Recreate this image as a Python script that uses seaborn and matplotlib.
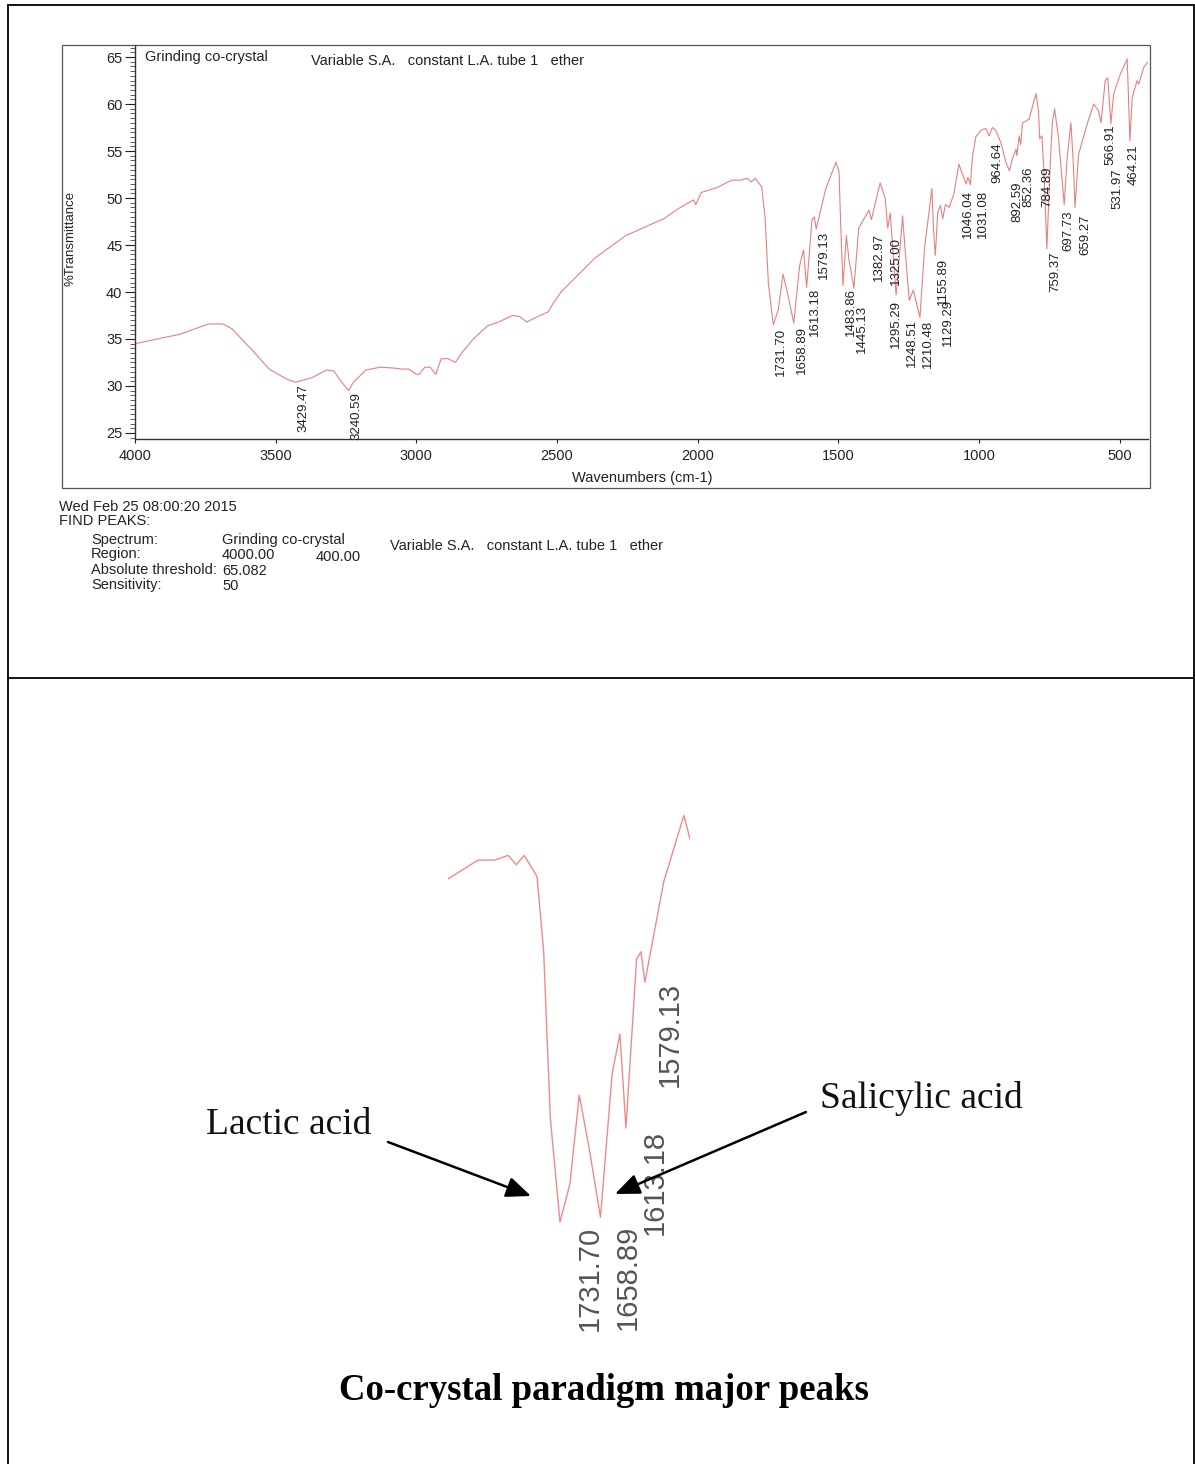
import matplotlib
matplotlib.use("Agg")
import matplotlib.pyplot as plt
from matplotlib.patches import Rectangle
from matplotlib.ticker import MultipleLocator
import seaborn as sns
import pandas as pd

# spectrum (cm-1, %T)
wavenumber = [
    4000, 3841, 3739, 3688, 3656, 3586, 3523, 3459, 3429.47, 3370,
    3319, 3294, 3268, 3240.59, 3224, 3179, 3128, 3078, 3052, 3027,
    3001, 2990, 2970, 2951, 2931, 2912, 2887, 2861, 2842, 2798,
    2747, 2709, 2658, 2633, 2608, 2582, 2531, 2518, 2486, 2416,
    2366, 2256, 2121, 2067, 2015, 2007, 1987, 1933, 1906, 1879,
    1849, 1825, 1810, 1796, 1773, 1761, 1749, 1731.70, 1714, 1697,
    1679, 1658.89, 1638, 1624, 1613.18, 1594, 1586, 1579.13, 1545, 1509,
    1498, 1492, 1483.86, 1472, 1463, 1445.13, 1428, 1392, 1382.97, 1352,
    1334, 1325.00, 1316, 1295.29, 1283, 1272, 1264, 1248.51, 1234, 1210.48,
    1194, 1168, 1162, 1155.89, 1147, 1138, 1129.29, 1120, 1107, 1090,
    1072, 1060, 1046.04, 1040, 1031.08, 1024, 1012, 994, 976, 964.64,
    953, 941, 923, 905, 892.59, 881, 869, 866, 858, 852.36,
    846, 822, 810, 798, 789, 784.89, 777, 770, 759.37, 750,
    740, 732, 718, 697.73, 688, 674, 666, 659.27, 647, 617,
    593, 576, 566.91, 552, 543, 531.97, 522, 498, 474, 464.21,
    456, 439, 433, 415, 400,
]
transmittance = [
    34.5, 35.5, 36.6, 36.6, 36.1, 33.9, 31.8, 30.7, 30.4, 30.9,
    31.7, 31.6, 30.5, 29.5, 30.4, 31.7, 32.0, 31.9, 31.8, 31.8,
    31.25, 31.25, 32.0, 32.0, 31.25, 32.9, 32.9, 32.5, 33.4, 35.0,
    36.4, 36.8, 37.5, 37.4, 36.8, 37.2, 37.9, 38.6, 40.0, 42.1,
    43.6, 46.0, 47.8, 48.9, 49.8, 49.3, 50.6, 51.1, 51.5, 51.9,
    51.9, 52.1, 51.7, 52.1, 51.2, 48.0, 40.9, 36.5, 38.1, 41.9,
    39.6, 36.7, 42.8, 44.5, 40.5, 47.7, 48.0, 46.7, 51.0, 53.8,
    52.8, 47.0, 40.7, 46.0, 43.5, 40.4, 46.8, 48.7, 47.7, 51.6,
    50.0, 46.8, 48.4, 39.7, 44.0, 48.1, 44.8, 39.1, 40.2, 37.3,
    44.7, 51.0, 46.5, 43.9, 48.5, 49.2, 47.8, 49.3, 49.0, 50.4,
    53.6, 52.6, 51.5, 52.2, 51.4, 54.4, 56.5, 57.2, 57.4, 56.6,
    57.5, 57.2, 55.9, 53.8, 52.9, 54.3, 55.2, 54.5, 56.6, 55.7,
    58.0, 58.4, 59.8, 61.1, 59.2, 56.3, 56.6, 53.0, 44.6, 52.0,
    58.0, 59.5, 56.4, 49.3, 54.0, 58.0, 54.0, 49.0, 54.6, 57.8,
    60.0, 59.3, 58.0, 62.5, 62.8, 57.9, 61.1, 63.2, 64.8, 56.1,
    60.7, 62.5, 62.1, 63.9, 64.5,
]
assert len(wavenumber) == len(transmittance)

# peak picker output
peak_positions = [
    3429.47, 3240.59, 1731.70, 1658.89, 1613.18, 1579.13, 1483.86, 1445.13,
    1382.97, 1325.00, 1295.29, 1248.51, 1210.48, 1155.89, 1129.29, 1046.04,
    1031.08, 964.64, 892.59, 852.36, 784.89, 759.37, 697.73, 659.27,
    566.91, 531.97, 464.21,
]
peak_labels = [f"{p:.2f}" for p in peak_positions]
# where each label starts (its top end), in %T
label_top = [
    30.2, 29.3, 36.2, 36.4, 40.4, 46.5, 40.4, 38.6,
    46.3, 45.9, 39.2, 37.1, 37.0, 43.6, 39.3, 50.9,
    50.9, 55.9, 51.8, 53.4, 53.3, 44.3, 48.7, 48.2,
    57.8, 53.2, 55.7,
]
# label centre offset to the right of its peak, pixels
label_shift = [
    8, 8, 8, 8, 8, 8, 8, 8,
    8, 8, 0, 3, 8, 8, 5, 2,
    13, 8, 8, 8, 8, 8, 4, 10,
    9, 7, 4,
]

zoom_peaks = [1731.70, 1658.89, 1613.18, 1579.13]
zoom_offsets = [(15.5, 4), (13, 7), (15, 2), (10.5, 0)]   # px right, px down
zoom_window = (1933, 1498)

y_ticks = [25, 30, 35, 40, 45, 50, 55, 60, 65]
x_ticks = [4000, 3500, 3000, 2500, 2000, 1500, 1000, 500]

W, H = 1195, 1464
LINE = "#e8807f"
SANS = ["Liberation Sans", "DejaVu Sans"]
SERIF = ["Liberation Serif", "DejaVu Serif"]

sns.set_style("ticks")
plt.rcParams["font.family"] = SANS


def px_box(x0, y0, x1, y1):
    return [x0 / W, 1 - y1 / H, (x1 - x0) / W, (y1 - y0) / H]


fig = plt.figure(figsize=(W / 100, H / 100), dpi=100)
fig.patch.set_facecolor("white")

df = pd.DataFrame({"wavenumber": wavenumber, "transmittance": transmittance})

# ---- top: full spectrum as printed ----
ax = fig.add_axes(px_box(135, 45, 1148, 439))
ax.patch.set_alpha(0)
sns.lineplot(data=df, x="wavenumber", y="transmittance", ax=ax, sort=False,
             estimator=None, color=LINE, lw=0.8)
ax.set_xlim(4000, 400)
ax.set_ylim(24.36, 66.28)
ax.set_xlabel("")
ax.set_ylabel("")
ax.set_yticks(y_ticks)
ax.set_xticks(x_ticks)
ax.yaxis.set_minor_locator(MultipleLocator(0.5))
ax.tick_params(axis="y", which="major", length=7, width=0.8, pad=2,
               labelsize=10.5, colors="#222222")
ax.tick_params(axis="y", which="minor", length=3.5, width=0.6, color="#444444")
ax.tick_params(axis="x", which="major", length=3, width=0.8, pad=4,
               labelsize=10.5, colors="#222222")
for side in ("top", "right"):
    ax.spines[side].set_visible(False)
for side in ("left", "bottom"):
    ax.spines[side].set_color("#333333")
    ax.spines[side].set_linewidth(1.0)

px_per_cm = 1013 / 3600
for pos, lab, top, shift in zip(peak_positions, peak_labels, label_top, label_shift):
    ax.text(pos - shift / px_per_cm, top, lab, rotation=90, ha="center",
            va="top", fontsize=9.5, color="#222222")

# ---- bottom: zoom on the carbonyl region ----
ax2 = fig.add_axes(px_box(448, 763.75, 690, 1280.75))
ax2.patch.set_alpha(0)
sub = df[(df["wavenumber"] <= zoom_window[0]) & (df["wavenumber"] >= zoom_window[1])]
sns.lineplot(data=sub, x="wavenumber", y="transmittance", ax=ax2, sort=False,
             estimator=None, color="#f08a8a", lw=1.0)
ax2.set_xlim(*zoom_window)
ax2.set_ylim(34, 56)
ax2.axis("off")
lookup = dict(zip(wavenumber, transmittance))
for pos, (dx, dy) in zip(zoom_peaks, zoom_offsets):
    ax2.annotate(f"{pos:.2f}", xy=(pos, lookup[pos]), xytext=(dx * 0.72, -dy * 0.72),
                 textcoords="offset points", rotation=90, ha="left", va="top",
                 fontsize=21, color="#555555")

# ---- page furniture in pixel coordinates ----
ov = fig.add_axes([0, 0, 1, 1])
ov.set_xlim(0, W)
ov.set_ylim(H, 0)
ov.axis("off")
ov.patch.set_alpha(0)

for xs, ys in [((8, 1194), (5, 5)), ((8, 1194), (678, 678)),
               ((8, 8), (5, H)), ((1194, 1194), (5, H))]:
    ov.plot(xs, ys, color="black", lw=1.3)

ov.add_patch(Rectangle((62, 45), 1088, 443, fill=False, edgecolor="#555555", lw=0.9))

ov.text(71, 238, "%Transmittance", rotation=90, ha="center", va="center",
        fontsize=9.5, color="#222222")
ov.text(642, 478, "Wavenumbers (cm-1)", ha="center", va="center",
        fontsize=10.5, color="#222222")
ov.text(145, 57, "Grinding co-crystal", ha="left", va="center",
        fontsize=10.5, color="#222222")
ov.text(311, 61, "Variable S.A.   constant L.A. tube 1   ether", ha="left",
        va="center", fontsize=10.5, color="#222222")

info = [
    (59, 507, "Wed Feb 25 08:00:20 2015"),
    (59, 521, "FIND PEAKS:"),
    (91, 540, "Spectrum:"),
    (222, 540, "Grinding co-crystal"),
    (390, 546, "Variable S.A.   constant L.A. tube 1   ether"),
    (91, 554, "Region:"),
    (222, 555, "4000.00"),
    (316, 557, "400.00"),
    (91, 570, "Absolute threshold:"),
    (222, 571, "65.082"),
    (91, 585, "Sensitivity:"),
    (222, 586, "50"),
]
for x, y, s in info:
    ov.text(x, y, s, ha="left", va="center", fontsize=10.5, color="#222222")

arrow = dict(arrowstyle="-|>,head_length=0.6,head_width=0.25", color="black",
             lw=1.8, mutation_scale=25, shrinkA=0, shrinkB=0)
ov.annotate("", xy=(531, 1196), xytext=(388, 1142), arrowprops=arrow)
ov.annotate("", xy=(615, 1194), xytext=(806, 1112), arrowprops=arrow)
ov.text(289, 1125, "Lactic acid", ha="center", va="center", fontsize=27,
        family=SERIF, color="#111111")
ov.text(921, 1098, "Salicylic acid", ha="center", va="center", fontsize=27,
        family=SERIF, color="#111111")
ov.text(604, 1390, "Co-crystal paradigm major peaks", ha="center", va="center",
        fontsize=26.5, fontweight="bold", family=SERIF, color="black")

fig.savefig("out.png", dpi=100)
plt.close(fig)
